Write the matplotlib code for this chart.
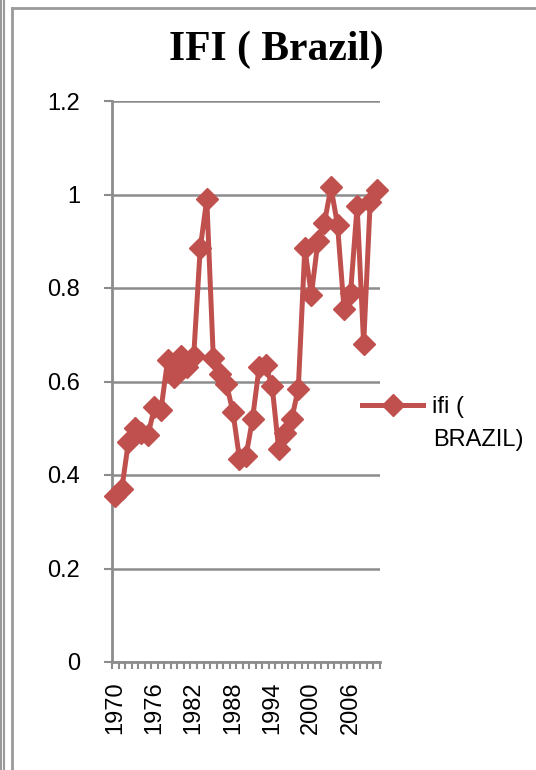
import matplotlib
matplotlib.use("Agg")
import matplotlib.pyplot as plt
from matplotlib.lines import Line2D
import numpy as np

years = list(range(1970, 2011))
ifi = [0.355, 0.37, 0.47, 0.50, 0.49, 0.485, 0.545, 0.54, 0.645, 0.61,
       0.655, 0.63, 0.655, 0.885, 0.99, 0.65, 0.615, 0.595, 0.535, 0.435,
       0.44, 0.52, 0.63, 0.635, 0.59, 0.455, 0.49, 0.52, 0.585, 0.885,
       0.785, 0.90, 0.94, 1.015, 0.935, 0.755, 0.79, 0.975, 0.68, 0.985,
       1.01]
tick_years = [1970, 1976, 1982, 1988, 1994, 2000, 2006]
y_ticks = [0, 0.2, 0.4, 0.6, 0.8, 1.0, 1.2]
y_labels = ["0", "0.2", "0.4", "0.6", "0.8", "1", "1.2"]

W, H = 536, 770
fig = plt.figure(figsize=(W / 100, H / 100), dpi=100)
ax = fig.add_axes([112 / W, 1 - 662 / H, (380 - 112) / W, (662 - 101) / H])

red = "#C0504D"
grey = "#8c8c8c"
ax.plot(years, ifi, color=red, lw=3.6, marker="D", markersize=11,
        label="ifi (", clip_on=False, zorder=3)

ax.set_xlim(years[0] - 0.5, years[-1] + 0.5)
ax.set_ylim(0, 1.2)
ax.set_yticks(y_ticks)
ax.set_yticklabels(y_labels, fontsize=17, family="Liberation Sans")
ax.set_xticks(tick_years)
ax.set_xticklabels([str(y) for y in tick_years], rotation=90, fontsize=17,
                   family="Liberation Sans")
ax.set_xticks(np.arange(years[0] - 0.5, years[-1] + 1), minor=True)
ax.tick_params(axis="x", which="major", length=0, pad=14)
ax.tick_params(axis="x", which="minor", length=5, width=1.5, color=grey, direction="out")
ax.tick_params(axis="y", length=6, width=1.5, color=grey, pad=17)

ax.grid(axis="y", color=grey, lw=1.8)
ax.set_axisbelow(True)
for s in ["top", "right"]:
    ax.spines[s].set_visible(False)
for s in ["left", "bottom"]:
    ax.spines[s].set_color(grey)
    ax.spines[s].set_linewidth(2)

fig.text(276 / W, 1 - 50 / H, "IFI ( Brazil)", ha="center", va="center",
         fontsize=30, fontweight="bold", family="Liberation Serif")

leg = ax.legend(loc="center left", bbox_to_anchor=(362 / W, 1 - 407 / H),
                bbox_transform=fig.transFigure, frameon=False,
                prop={"family": "Liberation Sans", "size": 17},
                handlelength=2.6, handletextpad=0.35, borderpad=0, borderaxespad=0)
# second line of the series name
fig.text(433 / W, 1 - 440 / H, "BRAZIL)", ha="left", va="center",
         fontsize=17, family="Liberation Sans")

# page border lines
for x in [0.5, 3.5]:
    fig.add_artist(Line2D([x / W, x / W], [0, 1], color="#9a9a9a", lw=1.5))
fig.add_artist(Line2D([12 / W, 12 / W], [0, 1 - 8 / H], color="#9a9a9a", lw=2))
fig.add_artist(Line2D([12 / W, 1], [1 - 8 / H, 1 - 8 / H], color="#9a9a9a", lw=2))

fig.savefig("out.png", dpi=100)
